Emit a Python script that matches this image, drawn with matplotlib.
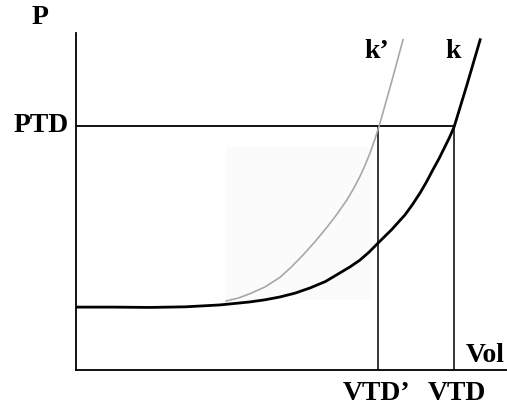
import numpy as np
import matplotlib
matplotlib.use("Agg")
import matplotlib.pyplot as plt
from matplotlib.patches import Rectangle

# compliance curve k (volume, pressure)
k_vol = [0.0, 1.0, 1.96, 2.9, 3.81, 4.2, 4.60, 5.0, 5.40, 5.8, 6.19, 6.6, 6.98, 7.25, 7.51, 7.75, 7.99,
         8.35, 8.70, 8.9, 9.10, 9.27, 9.44, 9.6, 9.76, 9.88, 10.0, 10.34, 10.69]
k_pres = [10.3, 10.3, 10.25, 10.35, 10.66, 10.9, 11.15, 11.5, 11.97, 12.6, 13.44, 14.5, 15.9, 16.9, 18.0, 19.3, 20.8,
          23.0, 25.4, 27.1, 29.0, 30.8, 32.8, 34.6, 36.6, 38.1, 39.8, 46.7, 54.1]

# stiffer curve k'
k2_vol = [3.97, 4.3, 4.60, 5.0, 5.40, 5.7, 6.0, 6.32, 6.64, 6.9, 7.17, 7.35, 7.51, 7.65, 7.78, 7.9, 8.02, 8.33, 8.65]
k2_pres = [11.3, 11.8, 12.5, 13.6, 15.2, 16.9, 18.8, 21.0, 23.4, 25.5, 27.9, 29.8, 31.7, 33.6, 35.6, 37.7, 40.0, 46.8, 54.1]

PTD = 40.0
VTD = 10.0
VTD2 = 8.0

fig = plt.figure(figsize=(5.07, 4.09), dpi=100)
ax = fig.add_axes([76 / 507, 39 / 409, 431 / 507, 337 / 409])
ax.set_xlim(0, 11.4)
ax.set_ylim(0, 55.2)

# faint grey patch left over from the scan
ax.add_patch(Rectangle((3.97, 11.5), 3.85, 25.0, color="#fbfbfb", lw=0, zorder=0))

ax.plot([0, VTD], [PTD, PTD], color="black", lw=1.3)
ax.plot([VTD2, VTD2], [0, PTD], color="black", lw=1.1)
ax.plot([VTD, VTD], [0, PTD], color="black", lw=1.1)

ax.plot(k2_vol, k2_pres, color="#a8a8a8", lw=1.2, solid_joinstyle="round")
ax.plot(k_vol, k_pres, color="black", lw=2.0, solid_joinstyle="round")

for s in ["top", "right"]:
    ax.spines[s].set_visible(False)
ax.spines["left"].set_linewidth(1.3)
ax.spines["bottom"].set_linewidth(1.3)
ax.set_xticks([])
ax.set_yticks([])

font = dict(family="Liberation Serif", weight="bold", fontsize=20)
fig.text(40 / 507, 1 - 18 / 409, "P", ha="center", va="center", **font)
fig.text(69 / 507, 1 - 126 / 409, "PTD", ha="right", va="center", **font)
fig.text(377 / 507, 1 - 52 / 409, "k\u2019", ha="center", va="center", **font)
fig.text(453 / 507, 1 - 52 / 409, "k", ha="center", va="center", **font)
fig.text(485 / 507, 1 - 355 / 409, "Vol", ha="center", va="center", **font)
fig.text(377 / 507, 1 - 394 / 409, "VTD\u2019", ha="center", va="center", **font)
fig.text(457 / 507, 1 - 394 / 409, "VTD", ha="center", va="center", **font)

fig.savefig("out.png", dpi=100)
